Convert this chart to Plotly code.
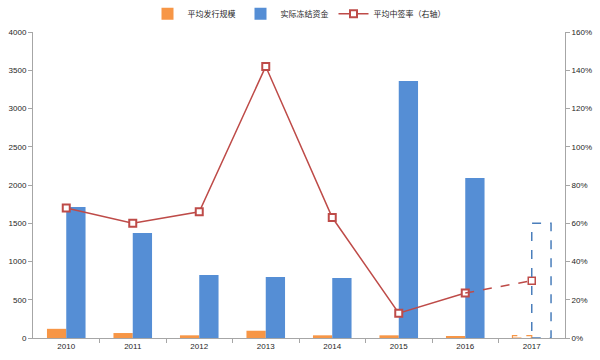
import plotly.graph_objects as go

years = [2010, 2011, 2012, 2013, 2014, 2015, 2016, 2017]
issue_size = [120, 65, 35, 95, 35, 35, 25, 30]
frozen_funds = [1712, 1373, 823, 797, 784, 3359, 2092, 1500]
win_rate = [0.68, 0.60, 0.66, 1.42, 0.63, 0.13, 0.235, 0.30]

labels = ["平均发行规模", "实际冻结资金", "平均中签率（右轴）"]
left_ticks = [0, 500, 1000, 1500, 2000, 2500, 3000, 3500, 4000]
right_ticks = [0, 0.2, 0.4, 0.6, 0.8, 1.0, 1.2, 1.4, 1.6]

ORANGE = "#F79646"
BLUE = "#558ED5"
RED = "#BE4B48"
AXIS = "#A6A6A6"
W = 0.29
FONT = "Noto Sans CJK SC, Noto Sans, sans-serif"
NUMFONT = dict(family="Liberation Sans, Arial, sans-serif", size=8, color="#262626")

fig = go.Figure()
fig.add_trace(go.Bar(x=years[:-1], y=issue_size[:-1], name=labels[0],
                     marker=dict(color=ORANGE, line=dict(width=0)),
                     width=W, offset=-W))
fig.add_trace(go.Bar(x=years[:-1], y=frozen_funds[:-1], name=labels[1],
                     marker=dict(color=BLUE, line=dict(width=0)),
                     width=W, offset=0))
fig.add_trace(go.Scatter(x=years[:-1], y=win_rate[:-1], name=labels[2], yaxis="y2",
                         mode="lines+markers",
                         line=dict(color=RED, width=1.5),
                         marker=dict(symbol="square", size=7, color="white",
                                     line=dict(color=RED, width=2))))
fig.add_trace(go.Scatter(x=years[-2:], y=win_rate[-2:], yaxis="y2", showlegend=False,
                         mode="lines", line=dict(color=RED, width=1.5, dash="dash")))
fig.add_trace(go.Scatter(x=years[-1:], y=win_rate[-1:], yaxis="y2", showlegend=False,
                         mode="markers",
                         marker=dict(symbol="square", size=7, color="rgba(255,255,255,0)",
                                     line=dict(color=RED, width=1.5))))

# 2017 estimated bars: dashed outlines
fig.add_shape(type="rect", xref="x", yref="y", x0=years[-1] - W, x1=years[-1],
              y0=0, y1=issue_size[-1], line=dict(color=ORANGE, width=1.2, dash="dash"),
              fillcolor="rgba(0,0,0,0)")
fig.add_shape(type="rect", xref="x", yref="y", x0=years[-1], x1=years[-1] + W,
              y0=0, y1=frozen_funds[-1], line=dict(color="#4A7EBB", width=1.5, dash="dash"),
              fillcolor="rgba(0,0,0,0)")

fig.update_layout(
    width=600, height=360,
    margin=dict(l=33, r=35, t=32, b=22, autoexpand=False),
    paper_bgcolor="white", plot_bgcolor="white",
    font=dict(family=FONT, size=8, color="#404040"),
    showlegend=True,
    legend=dict(orientation="h", x=0.5, xanchor="center", y=0.962, yanchor="middle",
                yref="container", font=dict(size=8, family=FONT, color="#262626"),
                itemwidth=30, tracegroupgap=0, bgcolor="rgba(0,0,0,0)"),
    bargap=0.4,
    xaxis=dict(range=[2009.5, 2017.5], tickmode="array", tickvals=years,
               ticktext=[str(y) for y in years], ticks="", showgrid=False,
               showline=True, linecolor=AXIS, linewidth=1, zeroline=False,
               tickfont=NUMFONT,
               minor=dict(tickmode="array", tickvals=[y + 0.5 for y in years[:-1]],
                          ticks="outside", ticklen=4, tickcolor=AXIS, showgrid=False)),
    yaxis=dict(range=[0, 4000], tickvals=left_ticks, ticks="outside", ticklen=4,
               tickcolor=AXIS, showgrid=False, showline=True, linecolor=AXIS,
               zeroline=False, tickfont=NUMFONT),
    yaxis2=dict(range=[0, 1.6], tickvals=right_ticks, tickformat=".0%", overlaying="y",
                side="right", ticks="outside", ticklen=4, tickcolor=AXIS,
                showgrid=False, showline=True, linecolor=AXIS, zeroline=False,
                tickfont=NUMFONT),
)

fig.write_html("out.html", config={"displayModeBar": False},
               post_script="document.body.style.margin='0';document.body.style.overflow='hidden';")
